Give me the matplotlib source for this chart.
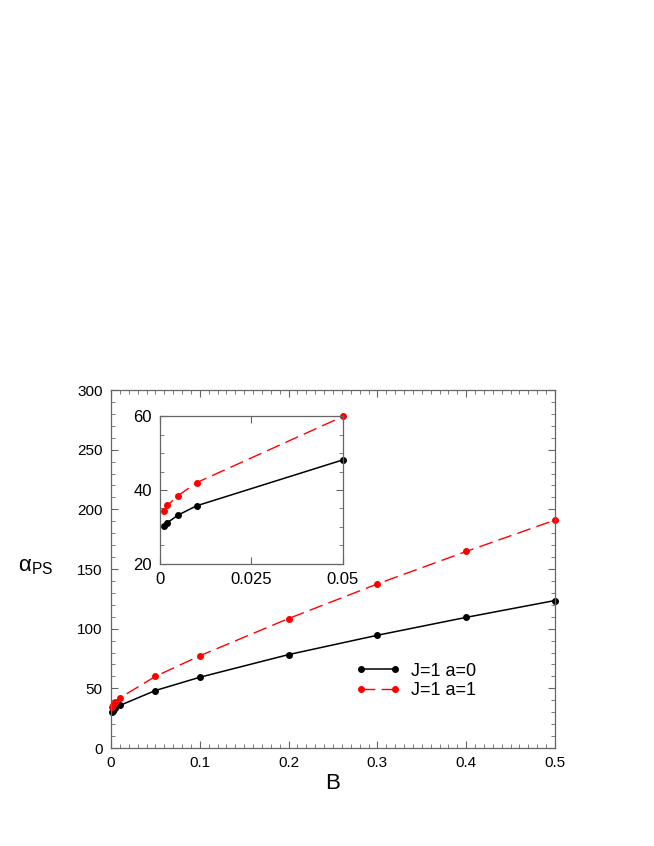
import matplotlib
matplotlib.use("Agg")
import matplotlib.pyplot as plt
from matplotlib.ticker import MultipleLocator

plt.rcParams['font.family'] = ['Liberation Sans', 'DejaVu Sans']
plt.rcParams['mathtext.fontset'] = 'custom'
plt.rcParams['mathtext.rm'] = 'Liberation Sans'
plt.rcParams['mathtext.it'] = 'Liberation Sans:italic'

# values
B = [0.001, 0.002, 0.005, 0.01, 0.05, 0.1, 0.2, 0.3, 0.4, 0.5]
alpha_a0 = [30.1, 31.1, 33.2, 35.7, 48.2, 59.3, 78.3, 94.5, 109.5, 123.6]
alpha_a1 = [34.4, 35.8, 38.5, 42.0, 60.0, 77.3, 108.5, 137.5, 164.7, 191.0]
labels = ["J=1 a=0", "J=1 a=1"]
n_inset = 5  # points with B <= 0.05

spine_col = "#666666"


def style_axes(ax, fs):
    for s in ax.spines.values():
        s.set_color(spine_col)
        s.set_linewidth(0.9)
    ax.tick_params(which="both", direction="in", top=True, right=True,
                   color=spine_col, labelsize=fs, pad=6)
    ax.tick_params(which="major", length=5)
    ax.tick_params(which="minor", length=3)


fig = plt.figure(figsize=(6.54, 8.46), dpi=100)

ax = fig.add_axes([0.1697, 0.1158, 0.6789, 0.4232])
ax.plot(B, alpha_a0, "-", color="black", lw=1.1, marker="o", ms=4,
        label=labels[0], clip_on=False)
ax.plot(B, alpha_a1, "--", color="red", lw=1.0, marker="o", ms=4,
        dashes=(10, 4.5), label=labels[1], clip_on=False)
ax.set_xlim(0, 0.5)
ax.set_ylim(0, 300)
ax.set_xticks([0, 0.1, 0.2, 0.3, 0.4, 0.5])
ax.set_xticklabels(["0", "0.1", "0.2", "0.3", "0.4", "0.5"])
ax.xaxis.set_minor_locator(MultipleLocator(0.01))
ax.yaxis.set_major_locator(MultipleLocator(50))
ax.yaxis.set_minor_locator(MultipleLocator(10))
style_axes(ax, 11)
ax.set_xlabel("B", fontsize=16, labelpad=2)
ax.text(-0.169, 0.506, r"α$_{\rm PS}$", transform=ax.transAxes,
        fontsize=16, ha="center", va="center")

leg = ax.legend(loc="center left", bbox_to_anchor=(0.55, 0.187),
                frameon=False, numpoints=2, handlelength=2.5,
                handletextpad=0.6, labelspacing=0.15, fontsize=13,
                borderpad=0, borderaxespad=0)

ins = fig.add_axes([0.2446, 0.3339, 0.2798, 0.1738])
ins.plot(B[:n_inset], alpha_a0[:n_inset], "-", color="black", lw=1.1,
         marker="o", ms=4, clip_on=False)
ins.plot(B[:n_inset], alpha_a1[:n_inset], "--", color="red", lw=1.0,
         marker="o", ms=4, dashes=(10, 4.5), clip_on=False)
ins.set_xlim(0, 0.05)
ins.set_ylim(20, 60)
ins.set_xticks([0, 0.025, 0.05])
ins.set_xticklabels(["0", "0.025", "0.05"])
ins.yaxis.set_major_locator(MultipleLocator(20))
ins.yaxis.set_minor_locator(MultipleLocator(5))
style_axes(ins, 12)

fig.savefig("out.png", dpi=100)
